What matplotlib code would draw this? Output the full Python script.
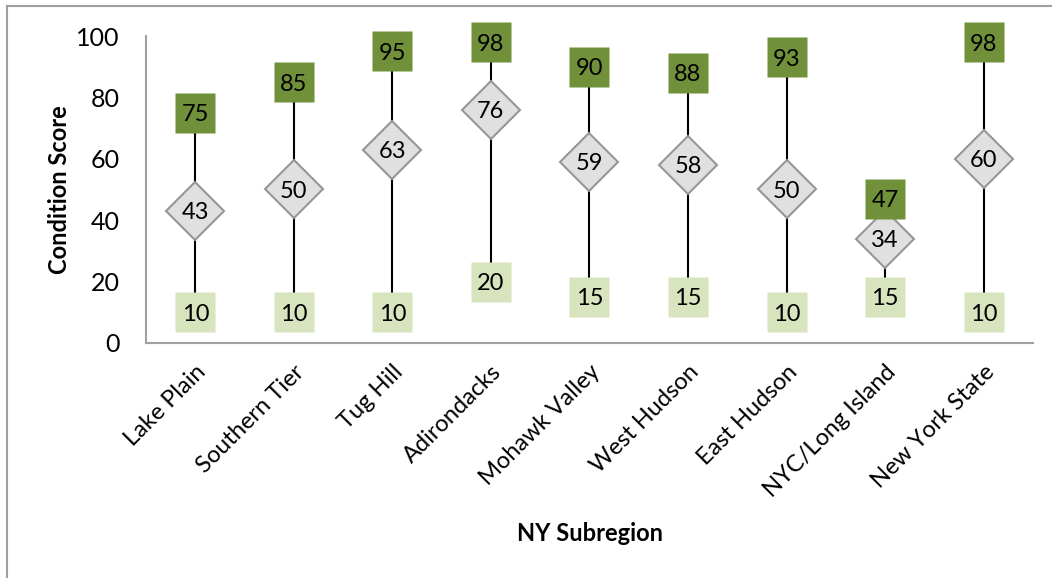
import matplotlib.pyplot as plt
from matplotlib.lines import Line2D

plt.rcParams['font.family'] = ['Lato', 'DejaVu Sans']

regions = ['Lake Plain', 'Southern Tier', 'Tug Hill', 'Adirondacks', 'Mohawk Valley',
           'West Hudson', 'East Hudson', 'NYC/Long Island', 'New York State']
min_score = [10, 10, 10, 20, 15, 15, 10, 15, 10]
max_score = [75, 85, 95, 98, 90, 88, 93, 47, 98]
mean_score = [43, 50, 63, 76, 59, 58, 50, 34, 60]

dark_green = '#70903a'
light_green = '#d7e4bd'
fs = 17

fig = plt.figure(figsize=(10.52, 5.78), dpi=100)
ax = fig.add_axes([0.1388, 0.4066, 0.843, 0.5311])

x = range(len(regions))
ax.vlines(x, min_score, max_score, color='black', lw=1.5, zorder=1)
ax.plot(x, mean_score, ls='none', marker='D', ms=29.5, mfc='#e0e0e0',
        mec='#969696', mew=1.5, zorder=2, clip_on=False)
ax.plot(x, max_score, ls='none', marker='s', ms=29.5, mfc=dark_green, mec='none',
        zorder=3, clip_on=False)
ax.plot(x, min_score, ls='none', marker='s', ms=29.5, mfc=light_green, mec='none',
        zorder=3, clip_on=False)

for i in x:
    for v in (min_score[i], max_score[i], mean_score[i]):
        ax.text(i, v, str(v), ha='center', va='center_baseline', fontsize=fs,
                zorder=4, clip_on=False)

ax.set_xlim(-0.5, len(regions) - 0.5)
ax.set_ylim(0, 100)
ax.set_yticks(range(0, 101, 20))
ax.tick_params(axis='y', length=0, pad=19, labelsize=fs + 1)
ax.tick_params(axis='x', length=0, pad=13, labelsize=17)
ax.set_xticks(list(x))
ax.set_xticklabels(regions, rotation=45, ha='right', rotation_mode='anchor')

for s in ('top', 'right'):
    ax.spines[s].set_visible(False)
for s in ('left', 'bottom'):
    ax.spines[s].set_color('#a0a0a0')
    ax.spines[s].set_linewidth(1.5)

ax.set_ylabel('Condition Score', fontsize=fs, fontweight='bold', labelpad=4)
fig.text(0.561, 0.077, 'NY Subregion', ha='center', va='center', fontsize=fs, fontweight='bold')

# chart area border (top and left visible)
fig.add_artist(Line2D([7 / 1052, 1], [1 - 6 / 578, 1 - 6 / 578], color='#a0a0a0', lw=1.5))
fig.add_artist(Line2D([7 / 1052, 7 / 1052], [0, 1 - 6 / 578], color='#a0a0a0', lw=1.5))

fig.savefig('out.png', dpi=100)
